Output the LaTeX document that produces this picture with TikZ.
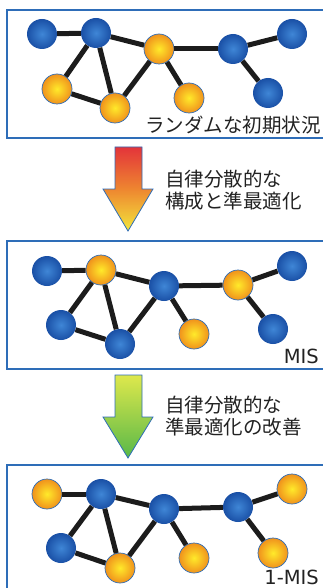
\documentclass[tikz,border=0pt]{standalone}
\usepackage{fontspec}
\setmainfont{DejaVu Sans}
\newfontfamily\cjk{Noto Sans CJK JP}
\definecolor{frameblue}{HTML}{2E6DB8}
\definecolor{ballin}{HTML}{3F86D6}
\definecolor{ballout}{HTML}{1A50A6}
\definecolor{orangein}{HTML}{FFEA2A}
\definecolor{orangeout}{HTML}{F0921C}
\definecolor{linkblack}{HTML}{1C1C1C}
\definecolor{txtgray}{HTML}{222222}
\definecolor{arrowred}{HTML}{E3343A}
\definecolor{arroworange}{HTML}{EE8630}
\definecolor{arrowyellow}{HTML}{F2E63C}
\definecolor{arrowlime}{HTML}{DEE84C}
\definecolor{arrowgreen}{HTML}{58B848}
\tikzset{
	b/.style={circle, minimum size=30pt, inner sep=0pt, shading=radial, inner color=ballin, outer color=ballout},
	o/.style={circle, minimum size=30pt, inner sep=0pt, shading=radial, inner color=orangein, outer color=orangeout, draw=frameblue, line width=0.7pt},
	link/.style={line width=5pt, linkblack},
	panel/.style={draw=frameblue, line width=1.3pt},
	caption/.style={text=txtgray, font=\fontsize{19.5}{22}\selectfont},
	bigarrow/.style={draw=frameblue, line width=0.8pt}
}
\begin{document}
\begin{tikzpicture}[x=1pt, y=-1pt]
	\useasboundingbox (0,0) rectangle (323,588);
	\clip (0,0) rectangle (323,588);
	% frames of the three states
	\draw[panel] (7,10) rectangle (340,138);
	\draw[panel] (7,241) rectangle (340,369);
	\draw[panel] (7,465) rectangle (340,600);
	% nodes: name/x/y/style, one list per state
	\def\nodesA {a/42/34/b, b/96/33/b, c/159/49/o, d/233/49/b, e/292/34/b, f/268/93/b, g/57/89/o, h/115/108/o, i/189/98/o}
	\def\nodesB {a/47/271/b, b/101/270/o, c/164/286/b, d/238/285/o, e/292/266/b, f/273/329/b, g/61/325/b, h/120/344/b, i/194/334/o}
	\def\nodesC {a/47/494/o, b/101/494/b, c/164/509/b, d/238/507/b, e/292/489/o, f/273/553/o, g/61/548/b, h/120/568/o, i/194/558/o}
	\foreach \n\x\y\s in \nodesA{
		\node[\s] (1\n) at (\x,\y) {};
	}
	\foreach \n\x\y\s in \nodesB{
		\node[\s] (2\n) at (\x,\y) {};
	}
	\foreach \n\x\y\s in \nodesC{
		\node[\s] (3\n) at (\x,\y) {};
	}
	% same links in every state
	\def\edges {a/b, b/c, c/d, d/e, d/f, b/g, b/h, g/h, h/c, c/i}
	\foreach \p in {1,2,3}{
		\foreach \s\t in \edges{
			\draw[link] (\p\s) -- (\p\t);
		}
	}
	% labels of the states
	\node[caption, anchor=east, inner sep=0pt] (lblA) at (321,125) {\cjk ランダムな初期状況};
	\node[caption, anchor=east, inner sep=0pt] (lblB) at (319,356) {MIS};
	\node[caption, anchor=east, inner sep=0pt] (lblC) at (319,577) {1-MIS};
	% arrows between the states
	\shade[bigarrow, top color=arrowred, bottom color=arrowyellow, middle color=arroworange]
		(115,147) -- (142,147) -- (142,189) -- (153,189) -- (128,231)
		-- (103,189) -- (115,189) -- cycle;
	\shade[bigarrow, top color=arrowlime, bottom color=arrowgreen]
		(115,375) -- (142,375) -- (142,417) -- (153,417) -- (128,458)
		-- (103,417) -- (115,417) -- cycle;
	\node[caption, anchor=west, align=left, inner sep=0pt] (stepA) at (165,190) {\cjk 自律分散的な\\\cjk 構成と準最適化};
	\node[caption, anchor=west, align=left, inner sep=0pt] (stepB) at (165,416) {\cjk 自律分散的な\\\cjk 準最適化の改善};
\end{tikzpicture}
\end{document}
